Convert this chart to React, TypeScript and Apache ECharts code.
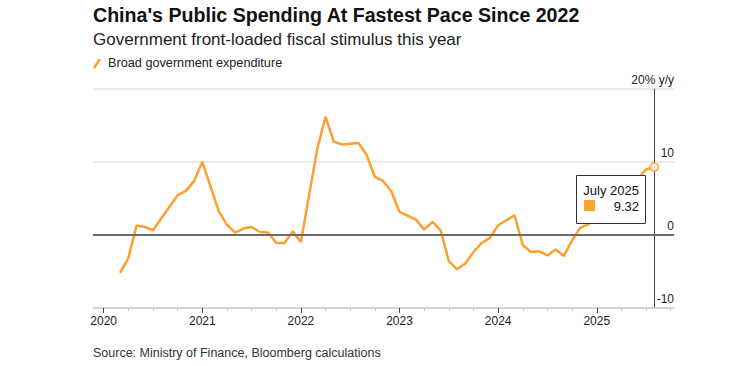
import React, { useEffect, useRef } from 'react';
import * as echarts from 'echarts';

// Month-end observations (Jan is reported together with Feb)
const months: string[] = [
  '2020-02', '2020-03', '2020-04', '2020-05', '2020-06', '2020-07', '2020-08', '2020-09', '2020-10', '2020-11', '2020-12',
  '2021-02', '2021-03', '2021-04', '2021-05', '2021-06', '2021-07', '2021-08', '2021-09', '2021-10', '2021-11', '2021-12',
  '2022-02', '2022-03', '2022-04', '2022-05', '2022-06', '2022-07', '2022-08', '2022-09', '2022-10', '2022-11', '2022-12',
  '2023-02', '2023-03', '2023-04', '2023-05', '2023-06', '2023-07', '2023-08', '2023-09', '2023-10', '2023-11', '2023-12',
  '2024-02', '2024-03', '2024-04', '2024-05', '2024-06', '2024-07', '2024-08', '2024-09', '2024-10', '2024-11', '2024-12',
  '2025-02', '2025-03', '2025-04', '2025-05', '2025-06', '2025-07',
];
const values: number[] = [
  -5.2, -3.16, 1.29, 1.1, 0.65, 2.26, 3.85, 5.45, 6.05, 7.38, 10.03,
  3.26, 1.4, 0.33, 0.88, 1.1, 0.41, 0.33, -1.1, -1.1, 0.5, -0.96,
  11.87, 16.2, 12.8, 12.4, 12.5, 12.6, 10.95, 7.97, 7.4, 6.0, 3.16,
  2.1, 0.74, 1.79, 0.65, -3.57, -4.7, -3.9, -2.33, -1.1, -0.4, 1.33,
  2.7, -1.41, -2.33, -2.24, -2.79, -2.0, -2.88, -0.73, 1.0, 1.45, 3.2,
  5.5, 5.8, 6.9, 7.7, 8.98, 9.32,
];
const yearLabels: number[] = [2020, 2021, 2022, 2023, 2024, 2025];
const yTicks: number[] = [-10, 0, 10, 20];
const monthNames = ['January', 'February', 'March', 'April', 'May', 'June', 'July', 'August', 'September', 'October', 'November', 'December'];

const TITLE = "China's Public Spending At Fastest Pace Since 2022";
const SUBTITLE = 'Government front-loaded fiscal stimulus this year';
const LEGEND = 'Broad government expenditure';
const SOURCE = 'Source: Ministry of Finance, Bloomberg calculations';

const ORANGE = '#ff9f2e';
const FONT = '"Liberation Sans", Arial, sans-serif';
const BASE_YEAR = 2020;

const toX = (s: string) => {
  const [y, m] = s.split('-').map(Number);
  return (y - BASE_YEAR) * 12 + m; // month-end, months since Jan 1 of base year
};

export default function App() {
  const ref = useRef<HTMLDivElement>(null);
  useEffect(() => {
    const chart = echarts.init(ref.current!, null, { renderer: 'svg' });
    const data = months.map((m, i) => [toX(m), values[i]]);
    const last = data[data.length - 1];
    const xMin = -1.3;
    const xMax = 69.4;
    const plotW = 744 - 93 - 70;
    const axisGap = (xMax - last[0]) * (plotW / (xMax - xMin));
    const yearVals = yearLabels.map((y) => (y - BASE_YEAR) * 12);
    const quarterVals: number[] = [];
    for (let v = 0; v <= xMax; v += 3) if (v % 12 !== 0) quarterVals.push(v);

    const headerGraphics = [
      { type: 'text', left: 93, top: 5, style: { text: TITLE, font: `bold 19.6px ${FONT}`, fill: '#111' } },
      { type: 'text', left: 93, top: 31, style: { text: SUBTITLE, font: `17px ${FONT}`, fill: '#222' } },
      { type: 'line', shape: { x1: 94, y1: 68, x2: 100, y2: 59 }, style: { stroke: ORANGE, lineWidth: 2.5 } },
      { type: 'text', left: 108, top: 56, style: { text: LEGEND, font: `12.7px ${FONT}`, fill: '#222' } },
      { type: 'text', left: 93, top: 346, style: { text: SOURCE, font: `12.5px ${FONT}`, fill: '#333' } },
    ];

    chart.setOption({
      animation: false,
      grid: { left: 93, right: 70, top: 89, bottom: 58, containLabel: false },
      xAxis: [
        {
          type: 'value', min: xMin, max: xMax,
          axisLine: { show: true, onZero: false, lineStyle: { color: '#cfcfcf', width: 1.5 } },
          axisTick: { show: true, customValues: yearVals, length: 5, lineStyle: { color: '#444', width: 1 } },
          axisLabel: {
            show: true, customValues: yearVals, margin: 7,
            formatter: (v: number) => String(BASE_YEAR + Math.round(v / 12)),
            color: '#222', fontSize: 12, fontFamily: FONT,
          },
          splitLine: { show: false },
        },
        {
          type: 'value', min: xMin, max: xMax, position: 'bottom',
          axisLine: { show: false, onZero: false },
          axisTick: { show: true, customValues: quarterVals, length: 3, lineStyle: { color: '#c8c8c8', width: 1 } },
          axisLabel: { show: false },
          splitLine: { show: false },
        },
      ],
      yAxis: {
        type: 'value', min: yTicks[0], max: yTicks[yTicks.length - 1], interval: 10,
        position: 'right', offset: -axisGap,
        axisLine: { show: true, onZero: false, lineStyle: { color: '#444', width: 1 } },
        axisTick: { show: false },
        axisLabel: {
          show: true, inside: false, margin: axisGap,
          align: 'right', verticalAlign: 'bottom', lineHeight: 14, padding: [0, 0, 2, 0],
          color: '#222', fontSize: 12, fontFamily: FONT,
          formatter: (v: number) => (v === yTicks[yTicks.length - 1] ? `${v}% y/y` : String(v)),
        },
        splitLine: { show: true, lineStyle: { color: '#e3e3e3', width: 1.5 } },
      },
      series: [
        {
          type: 'line', data: [], z: 1, silent: true,
          markLine: {
            silent: true, symbol: 'none', label: { show: false },
            lineStyle: { color: '#6b6b6b', width: 2, type: 'solid' },
            data: [{ yAxis: 0 }],
          },
        },
        {
          type: 'line', data, z: 3, showSymbol: false, symbol: 'none',
          lineStyle: { color: ORANGE, width: 2.5 },
          itemStyle: { color: ORANGE },
        },
        {
          type: 'scatter', data: [last], z: 4, symbol: 'circle', symbolSize: 8,
          itemStyle: { color: '#ffffff', borderColor: ORANGE, borderWidth: 2 },
        },
      ],
      graphic: headerGraphics,
    });

    const [px, py] = chart.convertToPixel({ xAxisIndex: 0, yAxisIndex: 0 }, last) as number[];
    const lastMonth = months[months.length - 1].split('-').map(Number);
    const tipTitle = `${monthNames[lastMonth[1] - 1]} ${lastMonth[0]}`;
    const tipValue = values[values.length - 1].toFixed(2);
    const bx = Math.round(px - 78);
    const by = Math.round(py + 8);
    chart.setOption({
      graphic: [
        ...headerGraphics,
        { type: 'rect', z: 100, shape: { x: bx + 0.5, y: by + 0.5, width: 69, height: 48 }, style: { fill: '#fff', stroke: '#333', lineWidth: 1 } },
        { type: 'text', z: 101, x: bx + 63, y: by + 15, style: { text: tipTitle, font: `13px ${FONT}`, fill: '#111', align: 'right', verticalAlign: 'middle' } },
        { type: 'rect', z: 101, shape: { x: bx + 8, y: by + 25, width: 11, height: 11 }, style: { fill: ORANGE } },
        { type: 'text', z: 101, x: bx + 63, y: by + 31, style: { text: tipValue, font: `13px ${FONT}`, fill: '#111', align: 'right', verticalAlign: 'middle' } },
      ],
    });
    return () => chart.dispose();
  }, []);
  return <div ref={ref} style={{ position: 'absolute', left: 0, top: 0, width: 744, height: 366 }} />;
}
